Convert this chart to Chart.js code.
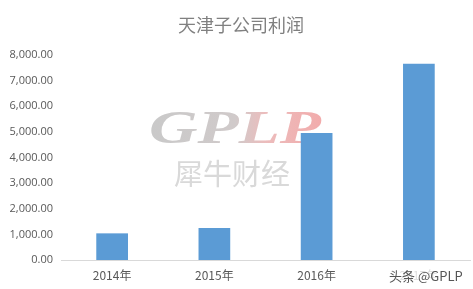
<!DOCTYPE html>
<html>
<head>
<meta charset="utf-8">
<script src="https://cdn.jsdelivr.net/npm/chart.js@4.4.0/dist/chart.umd.min.js"></script>
<style>
  html, body { margin: 0; padding: 0; background: #ffffff; }
  #wrap { width: 473px; height: 289px; }
</style>
</head>
<body>
<div id="wrap"><canvas id="chart" width="473" height="289"></canvas></div>
<script>
// 天津子公司利润 — values
var years = ['2014年', '2015年', '2016年', '2017年'];
var profits = [1040, 1250, 4960, 7660];
var yMax = 8000;
var yStep = 1000;

var titleText = '天津子公司利润';
var markBig = 'GPLP';
var markCn = '犀牛财经';
var markCorner = '头条 @GPLP';

function fmt(v) {
  return Number(v).toLocaleString('en-US', { minimumFractionDigits: 2, maximumFractionDigits: 2 });
}

// title + watermarks, drawn on the canvas
var decor = {
  id: 'decor',
  beforeDatasetsDraw: function (chart) {
    var c = chart.ctx;
    c.save();
    // big GPLP, stretched italic serif
    c.font = 'italic bold 46px "Liberation Serif", serif';
    var w = c.measureText(markBig).width;
    c.translate(149, 143);
    c.scale(172 / w, 1);
    c.textBaseline = 'alphabetic';
    c.textAlign = 'left';
    var g = c.createLinearGradient(0, 0, w, 0);
    g.addColorStop(0, '#c9c9c9');
    g.addColorStop(0.5, '#d0caca');
    g.addColorStop(0.68, '#ecbcbc');
    g.addColorStop(1, '#f2acac');
    c.fillStyle = g;
    c.fillText(markBig, 0, 0);
    c.restore();

    c.save();
    c.font = '29px "Noto Sans CJK SC", sans-serif';
    c.fillStyle = '#d9d9d9';
    c.textAlign = 'center';
    c.textBaseline = 'middle';
    c.fillText(markCn, 232, 174);
    c.restore();
  },
  afterDraw: function (chart) {
    var c = chart.ctx;
    c.save();
    c.font = '18px "Noto Sans CJK SC", sans-serif';
    c.fillStyle = '#808080';
    c.textAlign = 'center';
    c.textBaseline = 'middle';
    c.fillText(titleText, 241, 25);

    c.fillStyle = 'rgba(255,255,255,0.8)';
    c.fillRect(386, 266, 84, 20);
    c.font = '13px "Noto Sans CJK SC", sans-serif';
    c.fillStyle = '#555555';
    c.textAlign = 'left';
    c.fillText(markCorner, 389, 276);
    c.restore();
  }
};

new Chart(document.getElementById('chart'), {
  type: 'bar',
  data: {
    labels: years,
    datasets: [{
      label: titleText,
      data: profits,
      backgroundColor: '#5b9bd5',
      borderWidth: 0,
      categoryPercentage: 1,
      barPercentage: 0.31
    }]
  },
  options: {
    responsive: false,
    animation: false,
    layout: { padding: { top: 55, right: 3, bottom: 0, left: 0 } },
    plugins: {
      legend: { display: false },
      tooltip: { enabled: false },
      title: { display: false }
    },
    scales: {
      x: {
        grid: { display: false, drawTicks: false },
        border: { color: '#d9d9d9', width: 1 },
        ticks: {
          color: '#595959',
          padding: 8,
          maxRotation: 0,
          font: { family: '"Noto Sans CJK SC", sans-serif', size: 12 }
        },
        afterFit: function (s) { s.height = 29; }
      },
      y: {
        min: 0,
        max: yMax,
        grid: { display: false, drawTicks: false },
        border: { display: false },
        ticks: {
          stepSize: yStep,
          color: '#595959',
          padding: 8,
          font: { family: '"Open Sans", sans-serif', size: 11 },
          callback: function (v) { return fmt(v); }
        },
        afterFit: function (s) { s.width = 61; }
      }
    }
  },
  plugins: [decor]
});
</script>
</body>
</html>
